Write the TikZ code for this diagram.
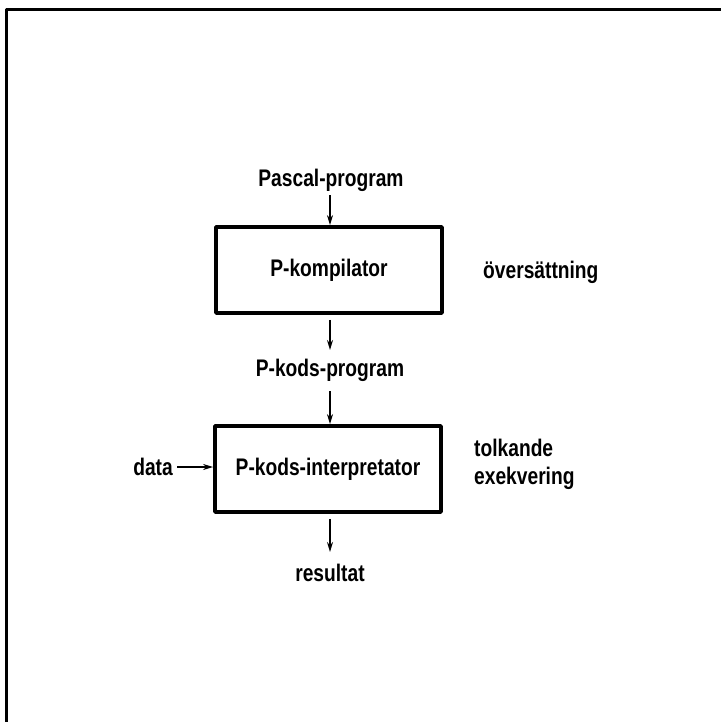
\documentclass[tikz,border=0pt]{standalone}
\usepackage{fontspec}
\setmainfont[FakeStretch=0.8]{Liberation Sans}
\usetikzlibrary{arrows.meta}
\tikzset{
  box/.style={draw, line width=3.8pt, minimum width=226pt, minimum height=86pt, inner sep=0pt},
  lbl/.style={inner sep=0pt},
  pil/.style={line width=1.5pt, -{Stealth[length=10pt,width=6pt]}}
}
\begin{document}
\begin{tikzpicture}[x=1pt, y=-1pt, font=\fontsize{24}{28}\selectfont\bfseries, line join=round]
	\useasboundingbox (0,0) rectangle (721,722);
	\draw[line width=3pt] (6,722)--(6,10)--(721,10);
	% noder
	\node[lbl] (pascal) at (331,180){Pascal-program};
	\node[box] (komp) at (329,270){P-kompilator};
	\node[lbl, anchor=west] (overs) at (483,272){översättning};
	\node[lbl] (pkod) at (330,370){P-kods-program};
	\node[box] (interp) at (328,469){P-kods-interpretator};
	\node[lbl, anchor=east] (data) at (173,467){data};
	\node[lbl, anchor=west, align=left] (tolk) at (474,464){tolkande\\exekvering};
	\node[lbl] (res) at (330,573){resultat};
	% pilar
	\draw[pil] (330,195)--(komp.north-|330,0);
	\draw[pil] (komp.south-|330,0) ++(0,5)--(330,350);
	\draw[pil] (330,391)--(interp.north-|330,0);
	\draw[pil] (data.east) ++(4,0)--(interp.west|-data.east);
	\draw[pil] (interp.south-|330,0) ++(0,5)--(330,552);
\end{tikzpicture}
\end{document}
